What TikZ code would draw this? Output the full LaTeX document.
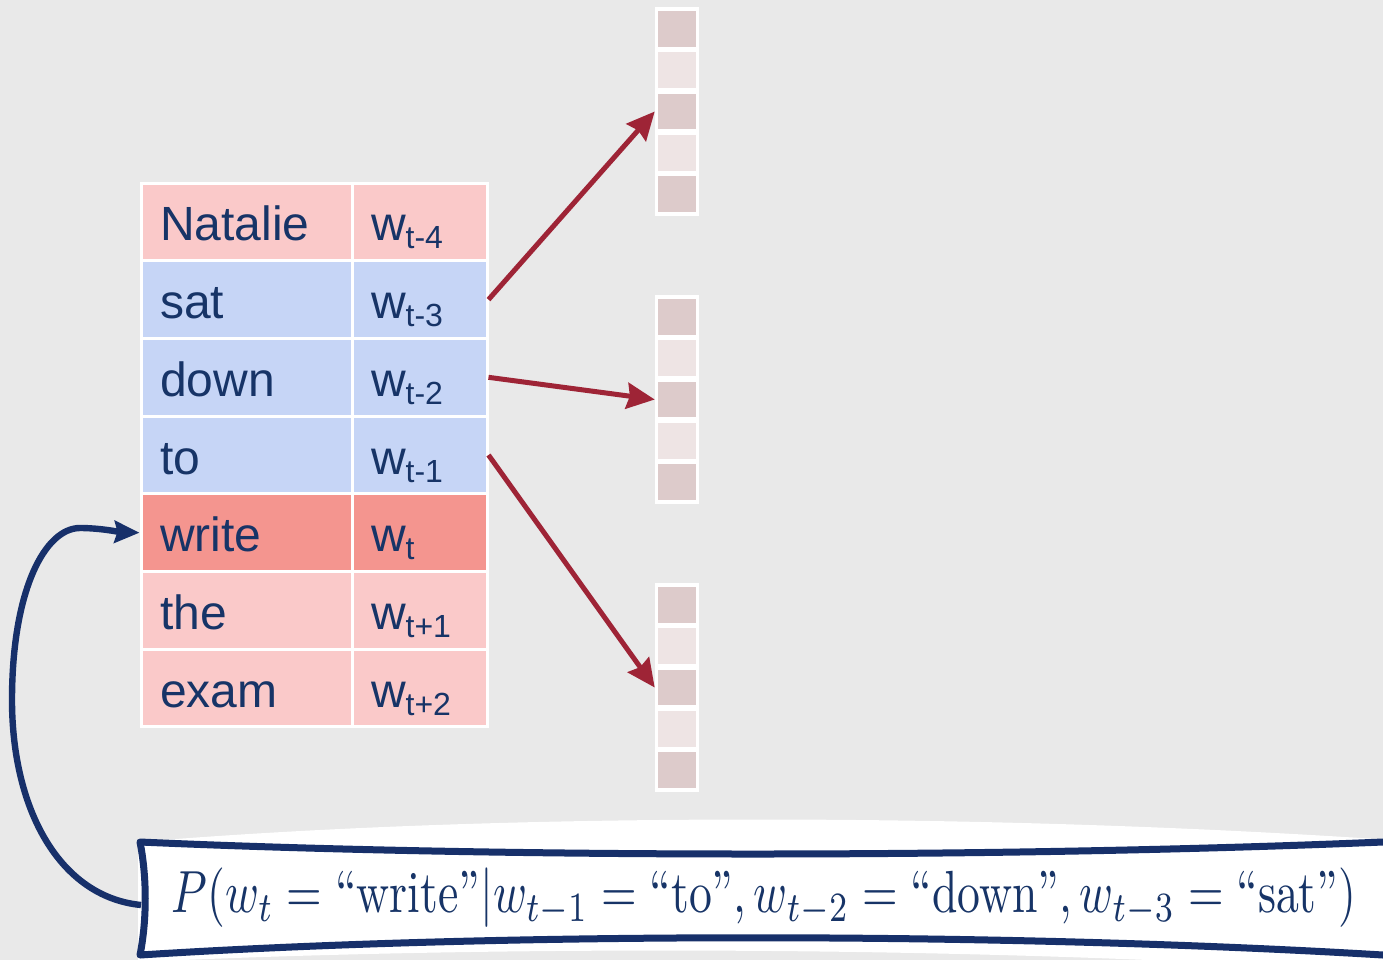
\documentclass[tikz,border=0pt]{standalone}
\usepackage{fontspec}
\usepackage{amsmath}
\usepackage{graphicx}
\setsansfont{Liberation Sans}
\usetikzlibrary{arrows.meta}

\definecolor{bg}{HTML}{E9E9E9}
\definecolor{ink}{HTML}{173467}
\definecolor{pinkc}{HTML}{FAC9C9}
\definecolor{bluec}{HTML}{C6D5F6}
\definecolor{redc}{HTML}{F4958F}
\definecolor{vdark}{HTML}{DDCBCB}
\definecolor{vlight}{HTML}{EEE4E4}
\definecolor{arrowred}{HTML}{9E2436}
\definecolor{navy}{HTML}{17306A}

% word with a lowered subscript, as in the table
\newcommand\wsub[1]{w\raisebox{-4pt}{\fontsize{16}{16}\selectfont #1}}

\tikzset{
  cell/.style={draw=white, line width=1.5pt, minimum height=38.86pt,
    text height=19pt, text depth=0pt, inner xsep=9.5pt, inner ysep=0pt,
    font=\sffamily\fontsize{24}{28}\selectfont, text=ink, align=left},
  wordcell/.style={cell, text width=86.5pt},
  tagcell/.style={cell, text width=48.5pt},
  veccell/.style={draw=white, line width=1.8pt, minimum width=20.5pt,
    minimum height=19.7pt, inner sep=0pt},
  redarrow/.style={draw=arrowred, line width=2.5pt,
    -{Stealth[length=14pt, width=13pt, inset=1.5pt]}},
  bluearrow/.style={draw=navy, line width=3.2pt,
    -{Stealth[length=12.5pt, width=11pt, inset=1.5pt]}},
  boxline/.style={draw=navy, line width=3.5pt, line join=round}
}

\begin{document}
\begin{tikzpicture}[x=0.5pt, y=-0.5pt]
\useasboundingbox (0,0) rectangle (1383,960);
\fill[bg] (0,0) rectangle (1383,960);

% the sentence and its positions
\node[wordcell, fill=pinkc] (w1) at (246.5,221.9) {Natalie};
\node[tagcell,  fill=pinkc] (t1) at (419.5,221.9) {\wsub{t-4}};
\node[wordcell, fill=bluec] (w2) at (246.5,299.6) {sat};
\node[tagcell,  fill=bluec] (t2) at (419.5,299.6) {\wsub{t-3}};
\node[wordcell, fill=bluec] (w3) at (246.5,377.3) {down};
\node[tagcell,  fill=bluec] (t3) at (419.5,377.3) {\wsub{t-2}};
\node[wordcell, fill=bluec] (w4) at (246.5,455.0) {to};
\node[tagcell,  fill=bluec] (t4) at (419.5,455.0) {\wsub{t-1}};
\node[wordcell, fill=redc]  (w5) at (246.5,532.7) {write};
\node[tagcell,  fill=redc]  (t5) at (419.5,532.7) {\wsub{t}};
\node[wordcell, fill=pinkc] (w6) at (246.5,610.4) {the};
\node[tagcell,  fill=pinkc] (t6) at (419.5,610.4) {\wsub{t+1}};
\node[wordcell, fill=pinkc] (w7) at (246.5,688.1) {exam};
\node[tagcell,  fill=pinkc] (t7) at (419.5,688.1) {\wsub{t+2}};

% three embedding vectors
\foreach \g/\top in {1/8, 2/296, 3/584}
  \foreach \k/\c in {1/vdark, 2/vlight, 3/vdark, 4/vlight, 5/vdark}
    \node[veccell, fill=\c] (v\g\k) at (677, {\top+41.4*(\k-0.5)}) {};

% context words feed the vectors
\draw[redarrow] (t2.east) -- (v13.west);
\draw[redarrow] (t3.east) -- (v23.west);
\draw[redarrow] (t4.east) -- (v33.west);

% banner holding the probability
\fill[white] (138,842) .. controls (500,812) and (1000,812) .. (1420,842)
  -- (1420,975) .. controls (1000,945) and (500,945) .. (138,962) -- cycle;
\draw[boxline, fill=white] (140,842) .. controls (500,858) and (1000,858) .. (1383,842)
  -- (1430,842) -- (1430,958) -- (1383,955)
  .. controls (1000,932) and (500,932) .. (140,955)
  .. controls (147,920) and (147,877) .. (140,842) -- cycle;
\node[text=ink, inner sep=0pt] (formula) at (764,898)
  {\scalebox{1}[1.3]{\resizebox{592pt}{!}{$P(w_t = \text{“write”}|w_{t-1} = \text{“to”}, w_{t-2} = \text{“down”}, w_{t-3} = \text{“sat”})$}}};

% loop back from the formula to the predicted word
\coordinate (boxin) at (141,905);
\draw[bluearrow] (boxin) .. controls (60,897) and (12,810) .. (12,700)
  .. controls (12,590) and (45,528) .. (80,528)
  .. controls (100,528) and (120,532) .. (w5.west);
\end{tikzpicture}
\end{document}
